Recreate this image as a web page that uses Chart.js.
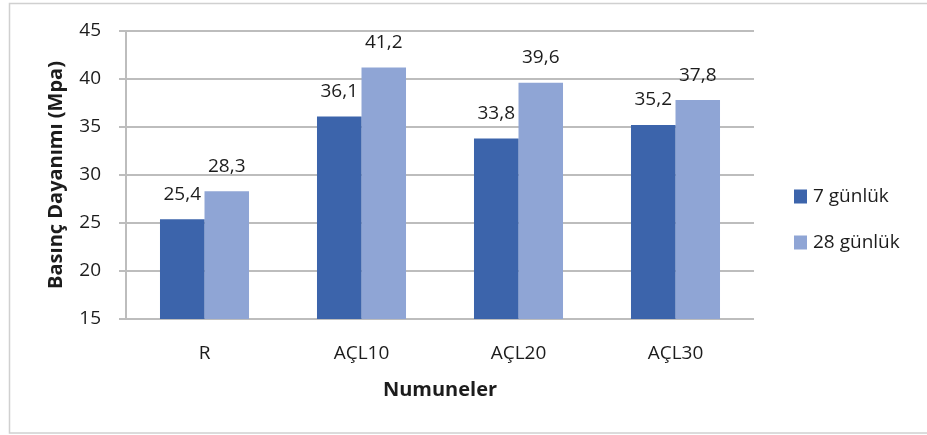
<!DOCTYPE html>
<html>
<head>
<meta charset="utf-8">
<script src="https://cdn.jsdelivr.net/npm/chart.js@4"></script>
<style>
  html, body { margin: 0; padding: 0; background: #fff; }
  #wrap { width: 927px; height: 435px; }
</style>
</head>
<body>
<div id="wrap"><canvas id="strengthChart"></canvas></div>
<script>
// Basınç dayanımı verileri
const categories = ['R', 'AÇL10', 'AÇL20', 'AÇL30'];
const seriesNames = ['7 günlük', '28 günlük'];
const values7 = [25.4, 36.1, 33.8, 35.2];
const values28 = [28.3, 41.2, 39.6, 37.8];
const yTicks = [15, 20, 25, 30, 35, 40, 45];

const textColor = '#1c1c1c';
const gridColor = '#bdbdbd';
const barColors = ['#3c64ab', '#8fa5d5'];
const fontFamily = "'Open Sans', sans-serif";

// outer frame like the Excel chart border
const framePlugin = {
    id: 'frame',
    beforeDraw(chart) {
        const ctx = chart.ctx;
        ctx.save();
        ctx.strokeStyle = '#d0d0d0';
        ctx.lineWidth = 1.5;
        ctx.strokeRect(9.5, 3.5, 940, 429.5);
        ctx.restore();
    }
};

// value labels above each bar, comma decimal
const valueLabels = {
    id: 'valueLabels',
    afterDatasetsDraw(chart) {
        const ctx = chart.ctx;
        ctx.save();
        ctx.font = '19px ' + fontFamily;
        ctx.fillStyle = textColor;
        ctx.textAlign = 'center';
        ctx.textBaseline = 'middle';
        chart.data.datasets.forEach((ds, i) => {
            chart.getDatasetMeta(i).data.forEach((bar, j) => {
                const txt = ds.data[j].toFixed(1).replace('.', ',');
                ctx.fillText(txt, bar.x, bar.y - 25);
            });
        });
        ctx.restore();
    }
};

// legend on the right, Excel style
const sideLegend = {
    id: 'sideLegend',
    afterDraw(chart) {
        const ctx = chart.ctx;
        const x = chart.chartArea.right + 40;
        const rows = [196.5, 242.5];
        ctx.save();
        ctx.font = '19px ' + fontFamily;
        ctx.textBaseline = 'middle';
        chart.data.datasets.forEach((ds, i) => {
            ctx.fillStyle = ds.backgroundColor;
            ctx.fillRect(x, rows[i] - 7, 13, 14);
            ctx.fillStyle = textColor;
            ctx.fillText(ds.label, x + 19, rows[i]);
        });
        ctx.restore();
    }
};

const ctx = document.getElementById('strengthChart');

new Chart(ctx, {
    type: 'bar',
    data: {
        labels: categories,
        datasets: [
            {
                label: seriesNames[0],
                data: values7,
                backgroundColor: barColors[0],
                categoryPercentage: 0.567,
                barPercentage: 1
            },
            {
                label: seriesNames[1],
                data: values28,
                backgroundColor: barColors[1],
                categoryPercentage: 0.567,
                barPercentage: 1
            }
        ]
    },
    options: {
        responsive: true,
        maintainAspectRatio: false,
        animation: false,
        layout: {
            padding: { left: 0, top: 31, right: 173, bottom: 0 }
        },
        scales: {
            x: {
                grid: { display: false, drawTicks: false },
                border: { display: false },
                ticks: {
                    color: textColor,
                    padding: 23,
                    font: { family: fontFamily, size: 19 }
                },
                title: {
                    display: true,
                    text: 'Numuneler',
                    color: textColor,
                    padding: { top: 0, bottom: 33 },
                    font: { family: fontFamily, size: 20, weight: 'bold' }
                },
                afterFit(scale) {
                    scale.height = 116;
                }
            },
            y: {
                min: yTicks[0],
                max: yTicks[yTicks.length - 1],
                afterBuildTicks(scale) {
                    scale.ticks = yTicks.map(v => ({ value: v }));
                },
                grid: {
                    color: gridColor,
                    lineWidth: 2,
                    tickLength: 7
                },
                border: { color: gridColor, width: 2 },
                ticks: {
                    color: textColor,
                    padding: 18,
                    font: { family: fontFamily, size: 19 }
                },
                title: {
                    display: true,
                    text: 'Basınç Dayanımı (Mpa)',
                    color: textColor,
                    padding: { top: 44, bottom: 0 },
                    font: { family: fontFamily, size: 20, weight: 'bold' }
                },
                afterFit(scale) {
                    scale.width = 126;
                }
            }
        },
        plugins: {
            legend: { display: false },
            tooltip: { enabled: false }
        }
    },
    plugins: [framePlugin, valueLabels, sideLegend]
});
</script>
</body>
</html>
